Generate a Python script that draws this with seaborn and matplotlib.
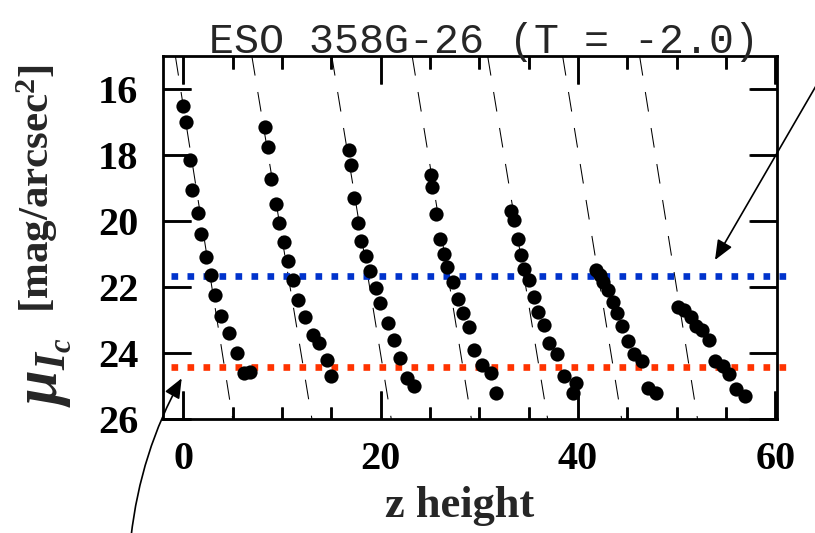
import numpy as np
import pandas as pd
import matplotlib
matplotlib.use("Agg")
import matplotlib.pyplot as plt
import seaborn as sns
from matplotlib.ticker import MultipleLocator

# --- surface-brightness cuts (z height, mu_Ic) ---------------------------
z_p1 = [0.0, 0.3, 0.65, 0.9, 1.45, 1.8, 2.3, 2.8, 3.25, 3.85, 4.6, 5.4, 6.1, 6.8]
mu_p1 = [16.5, 17.0, 18.15, 19.06, 19.77, 20.4, 21.08, 21.64, 22.25, 22.89, 23.4, 24.0, 24.6, 24.57]

z_p2 = [8.32, 8.56, 8.93, 9.34, 9.67, 10.2, 10.6, 11.1, 11.6, 12.3, 13.1, 13.75, 14.6, 15.0]
mu_p2 = [17.15, 17.75, 18.72, 19.48, 20.07, 20.65, 21.2, 21.8, 22.38, 22.92, 23.45, 23.7, 24.2, 24.7]

z_p3 = [16.8, 16.95, 17.3, 17.7, 17.97, 18.5, 18.9, 19.5, 19.9, 20.7, 21.35, 21.96, 22.7, 23.4]
mu_p3 = [17.85, 18.3, 19.3, 20.07, 20.6, 21.05, 21.5, 22.03, 22.5, 23.1, 23.6, 24.15, 24.75, 25.0]

z_p4 = [25.1, 25.25, 25.6, 26.0, 26.4, 26.7, 27.3, 27.8, 28.3, 28.97, 29.5, 30.3, 31.2, 31.7]
mu_p4 = [18.6, 18.96, 19.8, 20.55, 20.99, 21.4, 21.85, 22.36, 22.8, 23.2, 23.9, 24.35, 24.6, 25.2]

z_p5 = [33.2, 33.55, 33.9, 34.2, 34.55, 35.05, 35.5, 35.9, 36.5, 37.1, 37.85, 38.6, 39.45, 39.8]
mu_p5 = [19.7, 19.97, 20.56, 21.04, 21.45, 21.8, 22.3, 22.75, 23.15, 23.7, 24.03, 24.7, 25.2, 24.9]

z_p6 = [41.8, 42.2, 42.5, 43.0, 43.5, 43.9, 44.5, 45.05, 45.7, 46.5, 47.1, 47.9]
mu_p6 = [21.48, 21.65, 21.85, 22.1, 22.46, 22.8, 23.17, 23.63, 24.03, 24.24, 25.05, 25.2]

z_p7 = [50.1, 50.75, 51.4, 52.0, 52.6, 53.3, 53.9, 54.7, 55.35, 56.0, 56.9]
mu_p7 = [22.6, 22.7, 22.9, 23.17, 23.3, 23.6, 24.24, 24.4, 24.65, 25.1, 25.3]

# exponential fits: z position of each fit line at the top and bottom of the range
fit_mu_range = [15.0, 26.0]
fit_z_top = [-0.81, 6.94, 15.04, 23.19, 30.84, 38.44, 46.24]
fit_z_bottom = [5.0, 13.03, 21.07, 29.19, 36.92, 44.42, 52.11]

# reference surface-brightness levels
mu_blue = 21.66
mu_red = 24.43

x_ticks = [0, 20, 40, 60]
x_minor_ticks = [5, 10, 15, 25, 30, 35, 45, 50, 55]
y_ticks = [16, 18, 20, 22, 24, 26]
title_text = "ESO 358G-26 (T = -2.0)"
x_label = "z height"

# --- tables ---------------------------------------------------------------
cuts = [(z_p1, mu_p1), (z_p2, mu_p2), (z_p3, mu_p3), (z_p4, mu_p4),
        (z_p5, mu_p5), (z_p6, mu_p6), (z_p7, mu_p7)]
points = pd.concat(
    [pd.DataFrame({"z": z, "mu": mu, "cut": i}) for i, (z, mu) in enumerate(cuts)],
    ignore_index=True,
)
fits = pd.concat(
    [pd.DataFrame({"z": [zt, zb], "mu": fit_mu_range, "cut": i})
     for i, (zt, zb) in enumerate(zip(fit_z_top, fit_z_bottom))],
    ignore_index=True,
)

# --- style ----------------------------------------------------------------
sns.set_style("ticks")
plt.rcParams.update({
    "font.family": ["Liberation Serif", "DejaVu Serif"],
    "font.weight": "bold",
    "mathtext.fontset": "custom",
    "mathtext.rm": "Liberation Serif:bold",
    "mathtext.bf": "Liberation Serif:bold",
    "mathtext.it": "Liberation Serif:bold:italic",
    "axes.edgecolor": "black",
    "axes.linewidth": 2.0,
    "xtick.bottom": True, "xtick.top": True,
    "ytick.left": True, "ytick.right": True,
    "xtick.direction": "in", "ytick.direction": "in",
    "xtick.color": "black", "ytick.color": "black",
    "xtick.major.size": 20, "ytick.major.size": 20,
    "xtick.minor.size": 9, "ytick.minor.size": 0,
    "xtick.major.width": 1.8, "ytick.major.width": 1.8,
    "xtick.minor.width": 1.8,
    "xtick.major.pad": 16, "ytick.major.pad": 18,
    "xtick.labelsize": 29, "ytick.labelsize": 29,
})

fig = plt.figure(figsize=(8.15, 5.33), dpi=100)
ax = fig.add_axes([0.2004, 0.2139, 0.7534, 0.681])

sns.lineplot(data=fits, x="z", y="mu", units="cut", estimator=None, sort=False,
             color="black", linewidth=0.75, linestyle=(0, (19, 16)), ax=ax,
             legend=False, zorder=2)
sns.scatterplot(data=points, x="z", y="mu", color="black", s=105, linewidth=0,
                ax=ax, legend=False, zorder=4)

ax.set_xlim(-2.03, 60.2)
ax.set_ylim(26, 15)
ax.set_xticks(x_ticks)
ax.set_yticks(y_ticks)
ax.xaxis.set_minor_locator(MultipleLocator(5))
ax.tick_params(axis="both", which="both", direction="in",
               bottom=True, top=True, left=True, right=True)
ax.set_xlabel("")
ax.set_ylabel("")

# inward tick marks on all four sides of the frame (axes-fraction lengths)
major_x_len, minor_x_len, major_y_len = 0.0766, 0.0344, 0.0453
xt = ax.get_xaxis_transform()
yt = ax.get_yaxis_transform()
tick_kw = dict(color="black", linewidth=1.8, zorder=2.4, clip_on=False)
ax.vlines(x_ticks, 0, major_x_len, transform=xt, **tick_kw)
ax.vlines(x_ticks, 1 - major_x_len, 1, transform=xt, **tick_kw)
ax.vlines(x_minor_ticks, 0, minor_x_len, transform=xt, **tick_kw)
ax.vlines(x_minor_ticks, 1 - minor_x_len, 1, transform=xt, **tick_kw)
ax.hlines(y_ticks, 0, major_y_len, transform=yt, **tick_kw)
ax.hlines(y_ticks, 1 - major_y_len, 1, transform=yt, **tick_kw)

# dotted reference levels, running slightly past the frame
ax.plot([-1.3, 61.2], [mu_blue, mu_blue], color="#0033cc", linewidth=4.8,
        linestyle=(0, (1, 1.4)), dash_capstyle="butt", clip_on=False, zorder=3)
ax.plot([-1.3, 61.2], [mu_red, mu_red], color="#ff3300", linewidth=4.8,
        linestyle=(0, (1, 1.4)), dash_capstyle="butt", clip_on=False, zorder=3)

fig.text(460 / 815, (533 - 516.7) / 533, x_label, fontsize=32,
         fontweight="bold", ha="center", va="baseline")

# y-axis label: large mu with subscripts, then the unit in brackets
fig.text(45 / 815, (533 - 372) / 533, r"$\mu_{I_c}$", rotation=90,
         fontsize=45, ha="center", va="center")
fig.text(37 / 815, (533 - 188) / 533, r"[mag/arcsec$^{2}$]", rotation=90,
         fontsize=31, fontweight="bold", ha="center", va="center")

fig.text(484 / 815, (533 - 53) / 533, title_text, family="Liberation Mono",
         fontsize=30, fontweight="normal", ha="center", va="baseline")

# annotation arrows pointing at the two levels
arrow_kw = dict(arrowstyle="-|>,head_length=0.6,head_width=0.25",
                mutation_scale=20, lw=1.2, color="black",
                shrinkA=0, shrinkB=0)
ax.annotate("", xy=(715, 533 - 260), xycoords="figure pixels",
            xytext=(820, 533 - 79), textcoords="figure pixels",
            arrowprops=arrow_kw, annotation_clip=False)
ax.annotate("", xy=(181.7, 533 - 378.3), xycoords="figure pixels",
            xytext=(131, -4), textcoords="figure pixels",
            arrowprops=dict(arrow_kw, connectionstyle="arc3,rad=-0.1"),
            annotation_clip=False)

fig.savefig("out.png", dpi=100)
